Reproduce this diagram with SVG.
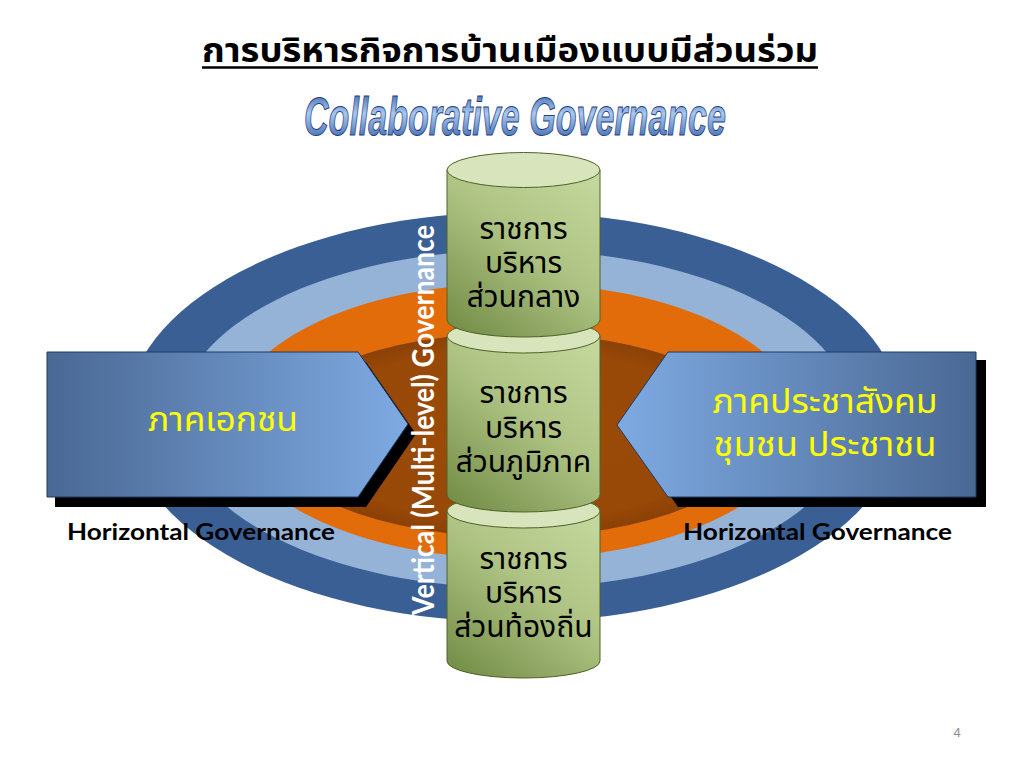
<svg xmlns="http://www.w3.org/2000/svg" width="1024" height="768" viewBox="0 0 1024 768">
<defs>
<style>
.thai{font-family:"Noto Sans Thai","Noto Sans","DejaVu Sans",Tahoma,sans-serif;}
.cyl-text{font-size:30px;fill:#000;text-anchor:middle;}
.arrow-text{font-size:34px;fill:#ffff00;text-anchor:middle;}
.hz{font-family:Lato,"Open Sans","Liberation Sans",sans-serif;font-weight:bold;font-size:23px;fill:#000;}
.cyl-top{fill:#d8e4bc;stroke:#4f6228;stroke-width:1;}
.cyl-body{stroke:#4f6228;stroke-width:1;}
</style>
<linearGradient id="gCyl" x1="0.15" y1="1" x2="0.85" y2="0">
<stop offset="0" stop-color="#76904a"/>
<stop offset="0.55" stop-color="#aec383"/>
<stop offset="1" stop-color="#c3d69b"/>
</linearGradient>
<linearGradient id="gArrowL" x1="0" y1="0" x2="1" y2="0">
<stop offset="0" stop-color="#4a6894"/>
<stop offset="1" stop-color="#7eaae2"/>
</linearGradient>
<linearGradient id="gArrowR" x1="0" y1="0" x2="1" y2="0">
<stop offset="0" stop-color="#7eaae2"/>
<stop offset="1" stop-color="#4a6894"/>
</linearGradient>
<linearGradient id="gTitle" x1="0" y1="0" x2="0" y2="1">
<stop offset="0" stop-color="#2a54a0"/>
<stop offset="0.45" stop-color="#a9c8f0"/>
<stop offset="1" stop-color="#2a54a0"/>
</linearGradient>
<radialGradient id="gBrown" cx="0.5" cy="0.5" r="0.5">
<stop offset="0" stop-color="#9c4c08"/>
<stop offset="0.85" stop-color="#984807"/>
<stop offset="1" stop-color="#8a4106"/>
</radialGradient>
</defs>
<rect width="1024" height="768" fill="#ffffff"/>

<g id="title">
<text x="510" y="62" class="thai" font-size="34" font-weight="bold" text-anchor="middle" textLength="616" lengthAdjust="spacingAndGlyphs">การบริหารกิจการบ้านเมืองแบบมีส่วนร่วม</text>
<line x1="202" y1="67.5" x2="818" y2="67.5" stroke="#000" stroke-width="2.5"/>
</g>
<g id="subtitle">
<text x="515" y="135" font-family="Liberation Sans, Arial, sans-serif" font-size="53" font-weight="bold" font-style="italic" text-anchor="middle" textLength="422" lengthAdjust="spacingAndGlyphs" fill="url(#gTitle)" stroke="#1f3f80" stroke-width="1">Collaborative Governance</text>
</g>

<g id="rings">
<ellipse cx="514" cy="417" rx="388" ry="205" fill="#3a5f95"/>
<ellipse cx="516" cy="419" rx="338" ry="169" fill="#95b3d7"/>
<ellipse cx="516" cy="421" rx="285" ry="138" fill="#e36c0a"/>
<ellipse cx="514" cy="435" rx="245" ry="102" fill="url(#gBrown)"/>
</g>

<g id="node-private">
<polygon points="55,362 366,362 416,434 366,507 55,507" fill="#000"/>
<polygon points="47,352 358,352 408,424 358,497 47,497" fill="url(#gArrowL)" stroke="#1f3a60" stroke-width="1"/>
<text x="223" y="431" class="thai arrow-text" textLength="150" lengthAdjust="spacingAndGlyphs">ภาคเอกชน</text>
</g>

<g id="node-civil">
<polygon points="678,360 986,360 986,507 678,507 627,434" fill="#000"/>
<polygon points="668,352 976,352 976,497 668,497 617,425" fill="url(#gArrowR)" stroke="#1f3a60" stroke-width="1"/>
<text class="thai arrow-text"><tspan x="825" y="413" textLength="225" lengthAdjust="spacingAndGlyphs">ภาคประชาสังคม</tspan><tspan x="825" y="456" textLength="223" lengthAdjust="spacingAndGlyphs">ชุมชน ประชาชน</tspan></text>
</g>

<g id="label-horizontal-left">
<text x="67" y="540" class="hz" textLength="268" lengthAdjust="spacingAndGlyphs">Horizontal Governance</text>
</g>
<g id="label-horizontal-right">
<text x="683" y="540" class="hz" textLength="269" lengthAdjust="spacingAndGlyphs">Horizontal Governance</text>
</g>

<g id="label-vertical">
<text transform="translate(434,420) rotate(-90)" x="0" y="0" font-family="Lato, Open Sans, Liberation Sans, sans-serif" font-weight="bold" font-size="30" fill="#ffffff" text-anchor="middle" textLength="390" lengthAdjust="spacingAndGlyphs">Vertical (Multi-level) Governance</text>
</g>

<g id="node-local">
<path class="cyl-body" d="M447,511 L447,661 A76.5,17 0 0 0 600,661 L600,511 Z" fill="url(#gCyl)"/>
<ellipse class="cyl-top" cx="523.5" cy="511" rx="76.5" ry="17"/>
<text class="thai cyl-text"><tspan x="523.5" y="569">ราชการ</tspan><tspan x="523.5" y="603">บริหาร</tspan><tspan x="523.5" y="637">ส่วนท้องถิ่น</tspan></text>
</g>

<g id="node-regional">
<path class="cyl-body" d="M447,336 L447,495 A76.5,17 0 0 0 600,495 L600,336 Z" fill="url(#gCyl)"/>
<ellipse class="cyl-top" cx="523.5" cy="336" rx="76.5" ry="17"/>
<text class="thai cyl-text"><tspan x="523.5" y="403">ราชการ</tspan><tspan x="523.5" y="438">บริหาร</tspan><tspan x="523.5" y="472">ส่วนภูมิภาค</tspan></text>
</g>

<g id="node-central">
<path class="cyl-body" d="M447,170 L447,320 A76.5,17 0 0 0 600,320 L600,170 Z" fill="url(#gCyl)"/>
<ellipse class="cyl-top" cx="523.5" cy="170" rx="76.5" ry="17.5"/>
<text class="thai cyl-text"><tspan x="523.5" y="239">ราชการ</tspan><tspan x="523.5" y="273">บริหาร</tspan><tspan x="523.5" y="307">ส่วนกลาง</tspan></text>
</g>

<g id="connectors"></g>

<text x="957" y="737" font-family="Liberation Sans, Arial, sans-serif" font-size="13" fill="#8c8c8c" text-anchor="middle">4</text>
</svg>
